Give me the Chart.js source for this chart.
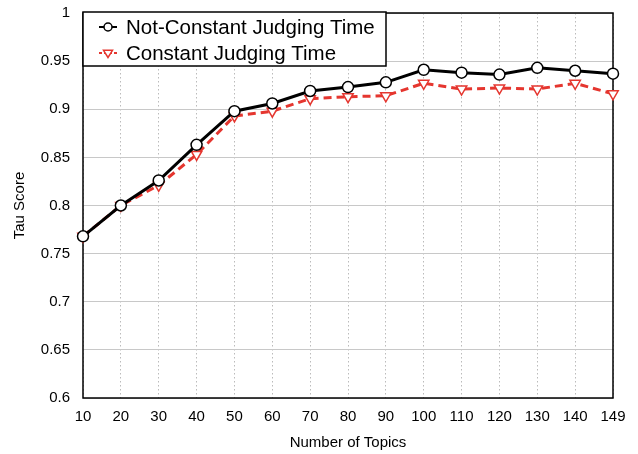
<!DOCTYPE html>
<html>
<head>
  <title>Tau Score vs Number of Topics</title>
  <script src="https://cdn.jsdelivr.net/npm/chart.js"></script>
  <style>
    body {
      margin: 0;
      background: #ffffff;
    }
    #tauChart {
      display: block;
    }
  </style>
</head>
<body>
  <canvas id="tauChart" width="638" height="454"></canvas>

  <script>
    // x categories and tau scores per run
    const topics = ['10', '20', '30', '40', '50', '60', '70', '80', '90', '100', '110', '120', '130', '140', '149'];
    const notConstant = [0.768, 0.800, 0.826, 0.863, 0.898, 0.906, 0.919, 0.923, 0.928, 0.941, 0.938, 0.936, 0.943, 0.940, 0.937];
    const constant = [0.768, 0.800, 0.821, 0.853, 0.893, 0.898, 0.911, 0.913, 0.914, 0.927, 0.921, 0.922, 0.921, 0.927, 0.916];
    const seriesNames = ['Not-Constant Judging Time', 'Constant Judging Time'];

    const FONT = '"Liberation Sans", Arial, Helvetica, sans-serif';
    const RED = '#e5362f';

    // black box round the plot area
    const framePlugin = {
      id: 'frame',
      beforeDatasetsDraw(chart) {
        const { ctx, chartArea: a } = chart;
        ctx.save();
        ctx.strokeStyle = '#000';
        ctx.lineWidth = 1.5;
        ctx.strokeRect(a.left, a.top, a.right - a.left, a.bottom - a.top);
        ctx.restore();
      }
    };

    // legend boxed in the top-left corner of the plot
    const insetLegend = {
      id: 'insetLegend',
      afterDatasetsDraw(chart) {
        const { ctx, chartArea: a } = chart;
        const x0 = a.left, y0 = a.top - 1, w = 303, h = 54;
        ctx.save();
        ctx.fillStyle = '#fff';
        ctx.fillRect(x0, y0, w, h);
        ctx.strokeStyle = '#000';
        ctx.lineWidth = 1.5;
        ctx.strokeRect(x0, y0, w, h);

        chart.data.datasets.forEach((ds, i) => {
          const cy = y0 + 15 + i * 26;
          const mx = x0 + 25;
          ctx.strokeStyle = ds.borderColor;
          ctx.lineWidth = 2;
          ctx.setLineDash(ds.borderDash ? [3, 2] : []);
          ctx.beginPath();
          ctx.moveTo(mx - 9, cy);
          ctx.lineTo(mx + 9, cy);
          ctx.stroke();
          ctx.setLineDash([]);

          ctx.fillStyle = '#fff';
          ctx.lineWidth = 1.5;
          ctx.beginPath();
          if (ds.pointStyle === 'triangle') {
            const r = 4.5;
            ctx.moveTo(mx - r, cy - r * 0.6);
            ctx.lineTo(mx + r, cy - r * 0.6);
            ctx.lineTo(mx, cy + r);
            ctx.closePath();
          } else {
            ctx.arc(mx, cy, 4, 0, Math.PI * 2);
          }
          ctx.fill();
          ctx.stroke();

          ctx.fillStyle = '#000';
          ctx.font = '20.5px ' + FONT;
          ctx.textBaseline = 'middle';
          ctx.textAlign = 'left';
          ctx.fillText(ds.label, x0 + 43, cy + 1);
        });
        ctx.restore();
      }
    };

    new Chart(document.getElementById('tauChart'), {
      type: 'line',
      data: {
        labels: topics,
        datasets: [{
          label: seriesNames[0],
          data: notConstant,
          borderColor: '#000',
          borderWidth: 3,
          pointStyle: 'circle',
          pointRadius: 5.5,
          pointBorderWidth: 1.5,
          pointBackgroundColor: '#fff',
          pointBorderColor: '#000',
          tension: 0,
          clip: false
        }, {
          label: seriesNames[1],
          data: constant,
          borderColor: RED,
          borderWidth: 3,
          borderDash: [8, 5],
          pointStyle: 'triangle',
          rotation: 180,
          pointRadius: 6,
          pointBorderWidth: 1.5,
          pointBackgroundColor: '#fff',
          pointBorderColor: RED,
          tension: 0,
          clip: false
        }]
      },
      options: {
        responsive: false,
        devicePixelRatio: 1,
        animation: false,
        layout: { padding: { top: 13, right: 25, left: 0, bottom: 0 } },
        plugins: {
          legend: { display: false },
          tooltip: { enabled: false }
        },
        scales: {
          x: {
            type: 'category',
            offset: false,
            afterFit(scale) { scale.height = 56; },
            grid: { color: '#bbbbbb', lineWidth: 1, drawTicks: false },
            border: { display: false, dash: [1.5, 2.5] },
            ticks: {
              color: '#000',
              padding: 10,
              maxRotation: 0,
              autoSkip: false,
              font: { family: FONT, size: 15 }
            },
            title: {
              display: true,
              text: 'Number of Topics',
              color: '#000',
              padding: { top: 0, bottom: 2 },
              font: { family: FONT, size: 15 }
            }
          },
          y: {
            min: 0.6,
            max: 1,
            afterFit(scale) {
              scale.width = 83;
              scale.paddingTop = 0;
              scale.paddingBottom = 0;
            },
            grid: { color: '#c8c8c8', lineWidth: 1, drawTicks: false },
            border: { display: false },
            ticks: {
              stepSize: 0.05,
              color: '#000',
              padding: 13,
              font: { family: FONT, size: 15 },
              callback: v => String(+v.toFixed(2))
            },
            title: {
              display: true,
              text: 'Tau Score',
              color: '#000',
              padding: { top: 11, bottom: 0 },
              font: { family: FONT, size: 15 }
            }
          }
        }
      },
      plugins: [framePlugin, insetLegend]
    });
  </script>
</body>
</html>
